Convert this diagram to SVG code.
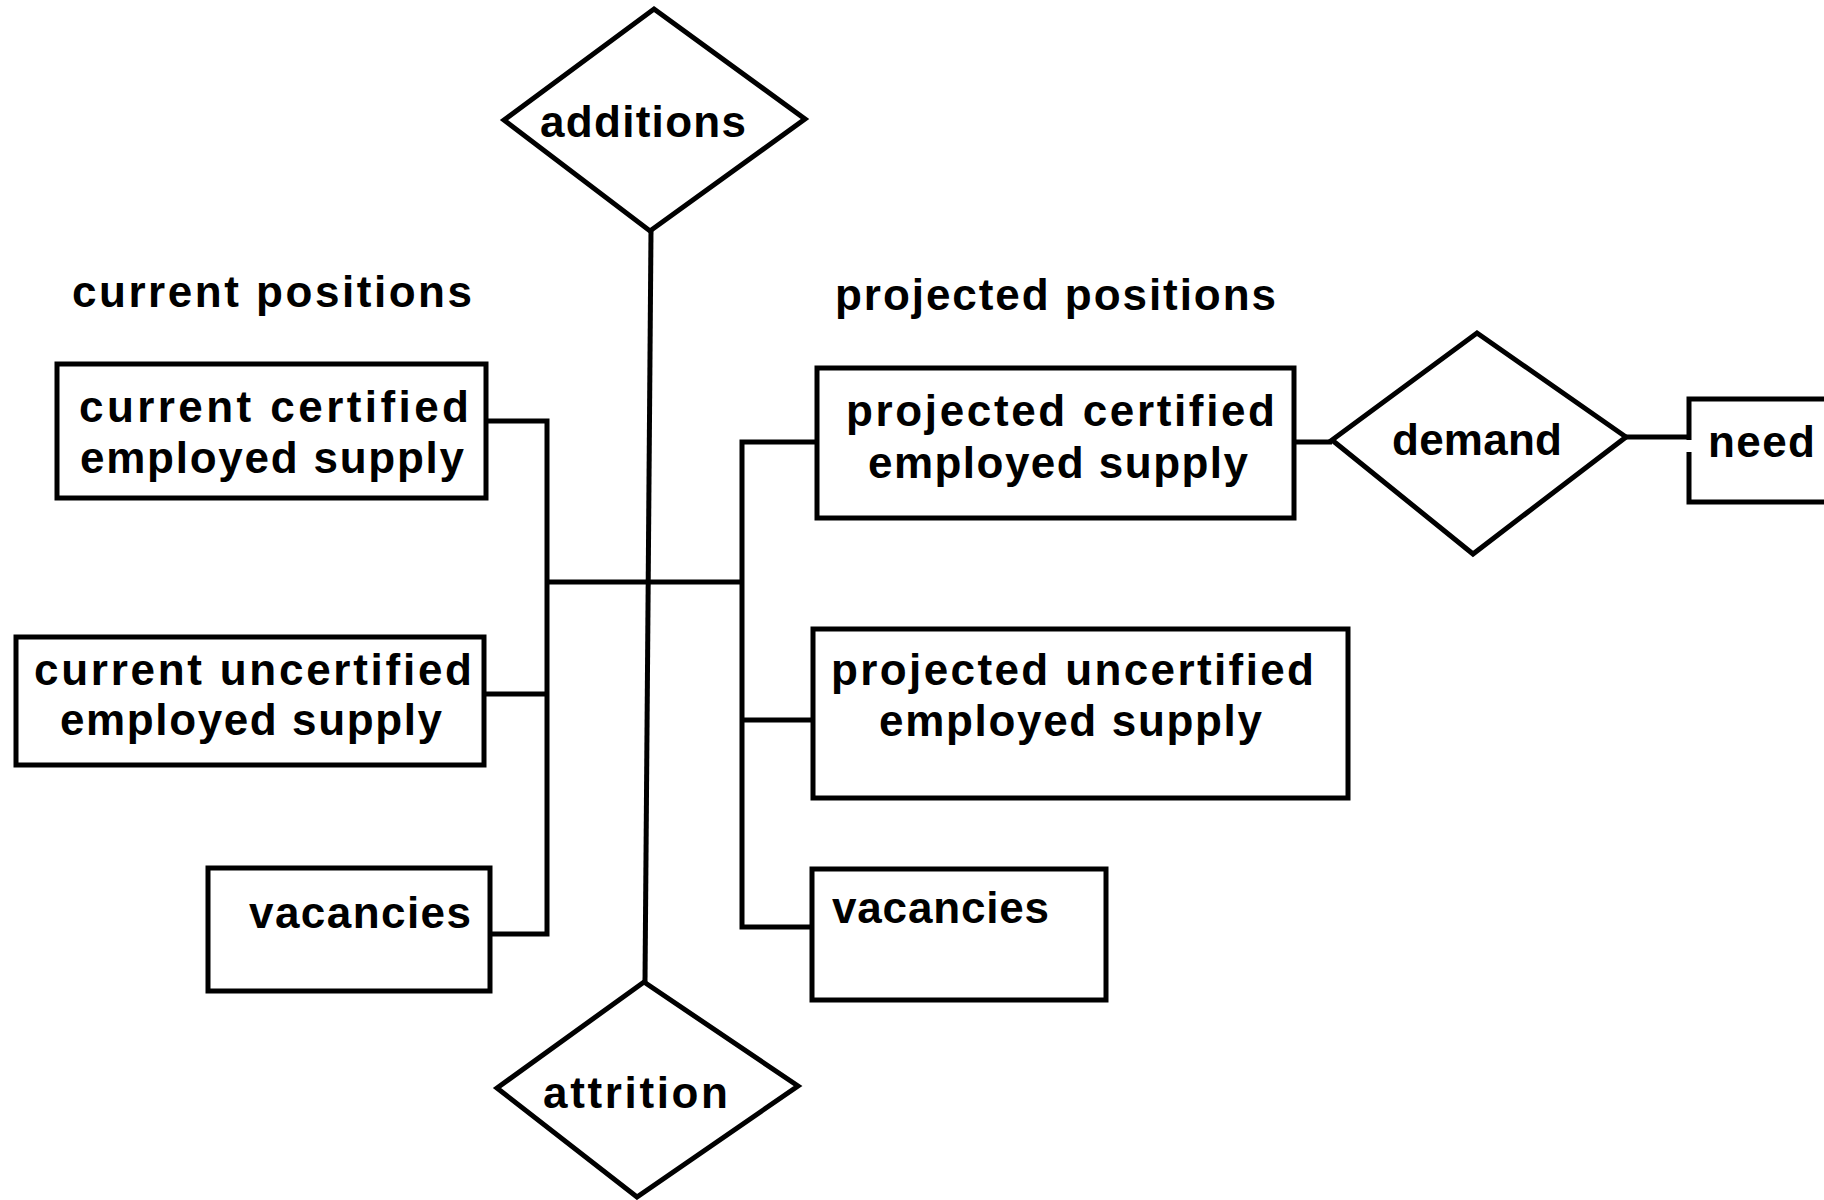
<svg xmlns="http://www.w3.org/2000/svg" width="1824" height="1200" viewBox="0 0 1824 1200">
<style>
.box{fill:#fff;stroke:#000;stroke-width:5}
.dia{fill:#fff;stroke:#000;stroke-width:5;stroke-linejoin:miter}
.ln{fill:none;stroke:#000;stroke-width:5}
text{font-family:"Liberation Sans",Arial,sans-serif;font-weight:bold;font-size:44px;fill:#000}
</style>
<rect width="1824" height="1200" fill="#fff"/>
<g id="connectors">
<path class="ln" d="M651,231 L645,982"/>
<path class="ln" d="M486,421 H547 V934 H490"/>
<path class="ln" d="M484,694 H547"/>
<path class="ln" d="M547,582 H742"/>
<path class="ln" d="M817,442 H742 V927 H812"/>
<path class="ln" d="M742,720 H813"/>
<path class="ln" d="M1294,442 H1332"/>
<path class="ln" d="M1626,437 H1689"/>
</g>
<g id="label-current">
<text x="72" y="307" textLength="400" lengthAdjust="spacing">current positions</text>
</g>
<g id="label-projected">
<text x="835" y="310" textLength="441" lengthAdjust="spacing">projected positions</text>
</g>
<g id="additions">
<polygon class="dia" points="654,9 805,119 650,231 504,120"/>
<text x="540" y="137" textLength="206" lengthAdjust="spacing">additions</text>
</g>
<g id="attrition">
<polygon class="dia" points="644,982 798,1086 637,1197 497,1088"/>
<text x="543" y="1108" textLength="185" lengthAdjust="spacing">attrition</text>
</g>
<g id="current-certified">
<rect class="box" x="57" y="364" width="429" height="134"/>
<text x="79" y="422" textLength="390" lengthAdjust="spacing">current certified</text>
<text x="80" y="473" textLength="384" lengthAdjust="spacing">employed supply</text>
</g>
<g id="current-uncertified">
<rect class="box" x="16" y="637" width="468" height="128"/>
<text x="34" y="685" textLength="438" lengthAdjust="spacing">current uncertified</text>
<text x="60" y="735" textLength="382" lengthAdjust="spacing">employed supply</text>
</g>
<g id="current-vacancies">
<rect class="box" x="208" y="868" width="282" height="123"/>
<text x="249" y="928" textLength="222" lengthAdjust="spacing">vacancies</text>
</g>
<g id="projected-certified">
<rect class="box" x="817" y="368" width="477" height="150"/>
<text x="846" y="426" textLength="429" lengthAdjust="spacing">projected certified</text>
<text x="868" y="478" textLength="380" lengthAdjust="spacing">employed supply</text>
</g>
<g id="projected-uncertified">
<rect class="box" x="813" y="629" width="535" height="169"/>
<text x="831" y="685" textLength="483" lengthAdjust="spacing">projected uncertified</text>
<text x="879" y="736" textLength="383" lengthAdjust="spacing">employed supply</text>
</g>
<g id="projected-vacancies">
<rect class="box" x="812" y="869" width="294" height="131"/>
<text x="832" y="923" textLength="217" lengthAdjust="spacing">vacancies</text>
</g>
<g id="demand">
<polygon class="dia" points="1477,333 1626,437 1473,554 1332,440"/>
<text x="1392" y="455" textLength="170" lengthAdjust="spacing">demand</text>
</g>
<g id="need">
<path class="ln" d="M1840,399 H1689 V440"/>
<path class="ln" d="M1689,452 V502 H1840"/>
<text x="1708" y="457" textLength="107" lengthAdjust="spacing">need</text>
</g>
</svg>
